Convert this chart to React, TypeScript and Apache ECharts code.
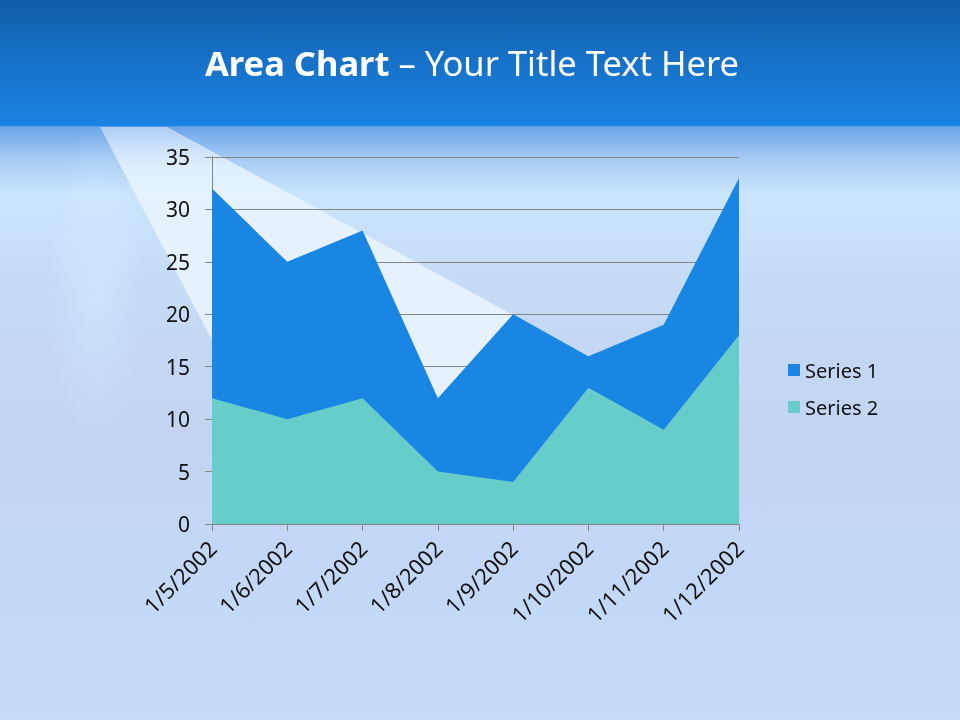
import React, { useEffect, useRef } from "react";
import * as echarts from "echarts";

const categories = ["1/5/2002", "1/6/2002", "1/7/2002", "1/8/2002", "1/9/2002", "1/10/2002", "1/11/2002", "1/12/2002"];
const series1 = [32, 25, 28, 12, 20, 16, 19, 33];
const series2 = [12, 10, 12, 5, 4, 13, 9, 18];
const seriesNames = ["Series 1", "Series 2"];
const yTicks = { min: 0, max: 35, interval: 5 };

const FONT = "'Noto Sans', 'DejaVu Sans', sans-serif";

export default function App() {
  const ref = useRef<HTMLDivElement>(null);
  useEffect(() => {
    if (!ref.current) return;
    const chart = echarts.init(ref.current, null, { renderer: "svg" });
    const lin = (x: number, y: number, x2: number, y2: number, stops: [number, string][]) =>
      new echarts.graphic.LinearGradient(x, y, x2, y2, stops.map(([offset, color]) => ({ offset, color })));
    const rad = (cx: number, cy: number, r: number, stops: [number, string][]) =>
      new echarts.graphic.RadialGradient(cx, cy, r, stops.map(([offset, color]) => ({ offset, color })));
    chart.setOption({
      animation: false,
      graphic: [
        {
          type: "rect",
          z: -100,
          silent: true,
          shape: { x: 0, y: 0, width: 960, height: 720 },
          style: {
            fill: lin(0, 0, 0, 1, [
              [0, "#1a82e0"],
              [0.172, "#1a84e2"],
              [0.177, "#6ea6ea"],
              [0.22, "#a6cbf4"],
              [0.27, "#cbe5fd"],
              [0.4, "#c5dbf6"],
              [0.6, "#c2d4f2"],
              [0.85, "#c3d9f8"],
              [1, "#c6dcfa"],
            ]),
          },
        },
        {
          type: "ellipse",
          z: -99,
          silent: true,
          shape: { cx: 96, cy: 285, rx: 48, ry: 155 },
          style: {
            fill: rad(0.5, 0.5, 0.5, [
              [0, "rgba(215,238,255,0.45)"],
              [0.6, "rgba(215,238,255,0.2)"],
              [1, "rgba(215,238,255,0)"],
            ]),
          },
        },
        {
          type: "rect",
          z: -98,
          silent: true,
          shape: { x: 0, y: 0, width: 960, height: 126 },
          style: {
            fill: lin(0, 0, 0, 1, [
              [0, "#105ea8"],
              [0.45, "#1670c6"],
              [1, "#1a84e2"],
            ]),
          },
        },
        {
          type: "polygon",
          z: -97,
          silent: true,
          shape: {
            points: [
              [100, 127],
              [167, 127],
              [600, 362],
              [440, 420],
              [212, 340],
            ],
          },
          style: {
            fill: lin(0, 0, 0, 1, [
              [0, "rgba(235,245,255,0.5)"],
              [0.15, "rgba(236,246,255,0.8)"],
              [1, "rgba(236,246,255,0.85)"],
            ]),
          },
        },
        {
          type: "text",
          z: 10,
          x: 472,
          y: 62,
          style: {
            text: "{b|Area Chart} {r|– Your Title Text Here}",
            align: "center",
            verticalAlign: "middle",
            rich: {
              b: { fontFamily: FONT, fontSize: 34.5, fontWeight: "bold", fill: "#ffffff" },
              r: { fontFamily: FONT, fontSize: 34.5, fontWeight: "normal", fill: "#ffffff" },
            },
            fill: "#ffffff",
            fontFamily: FONT,
            fontSize: 34.5,
          },
        },
      ],
      grid: { left: 212, right: 221, top: 157, bottom: 196, containLabel: false },
      legend: {
        orient: "vertical",
        left: 783,
        top: 355,
        itemWidth: 12,
        itemHeight: 12,
        itemGap: 17,
        icon: "rect",
        textStyle: { fontFamily: FONT, fontSize: 20, color: "#111" },
        data: seriesNames,
      },
      xAxis: {
        type: "category",
        data: categories,
        boundaryGap: false,
        axisLine: { show: true, lineStyle: { color: "#868686", width: 1 } },
        axisTick: { show: true, length: 7, alignWithLabel: true, lineStyle: { color: "#868686" } },
        axisLabel: { rotate: 45, margin: 20, fontFamily: FONT, fontSize: 22, color: "#111", interval: 0 },
        splitLine: { show: false },
      },
      yAxis: {
        type: "value",
        min: yTicks.min,
        max: yTicks.max,
        interval: yTicks.interval,
        axisLine: { show: true, lineStyle: { color: "#868686", width: 1 } },
        axisTick: { show: true, length: 7, lineStyle: { color: "#868686" } },
        axisLabel: { margin: 22, fontFamily: FONT, fontSize: 21, color: "#111" },
        splitLine: { show: true, lineStyle: { color: "#868686", width: 1 } },
      },
      series: [
        {
          name: seriesNames[0],
          type: "line",
          data: series1,
          symbol: "none",
          lineStyle: { width: 0 },
          itemStyle: { color: "#1a86e3" },
          areaStyle: { color: "#1a86e3", opacity: 1 },
          z: 2,
        },
        {
          name: seriesNames[1],
          type: "line",
          data: series2,
          symbol: "none",
          lineStyle: { width: 0 },
          itemStyle: { color: "#67cdcb" },
          areaStyle: { color: "#67cdcb", opacity: 1 },
          z: 3,
        },
      ],
    });
    return () => chart.dispose();
  }, []);
  return <div ref={ref} style={{ position: "fixed", left: 0, top: 0, width: 960, height: 720 }} />;
}
